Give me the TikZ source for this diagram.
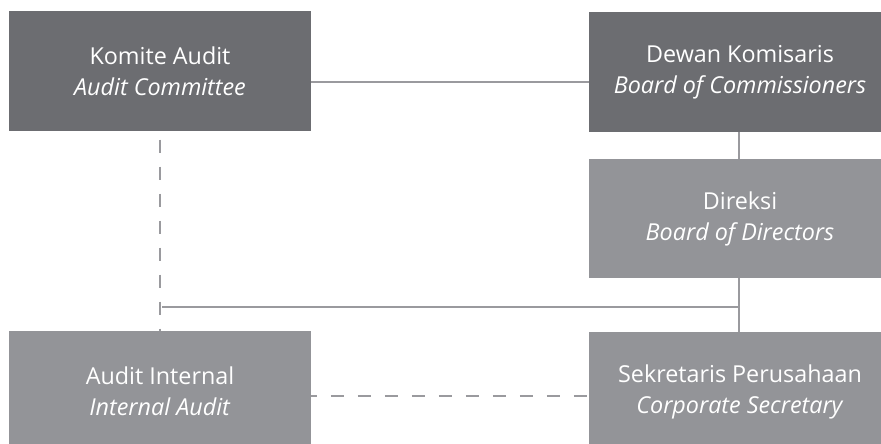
\documentclass[tikz,border=0pt]{standalone}
\usepackage{fontspec}
\setmainfont{Open Sans}
\definecolor{boxdark}{HTML}{6C6D71}
\definecolor{boxlight}{HTML}{939498}
\definecolor{linegray}{HTML}{9A9A9E}
\begin{document}
\begin{tikzpicture}[x=0.75pt, y=-0.75pt,
  darkbox/.style={rectangle, fill=boxdark, text=white, minimum width=226.5pt, minimum height=90pt, align=center, font=\fontsize{17.5}{23.25}\selectfont, inner sep=0pt},
  lightbox/.style={darkbox, fill=boxlight},
  conn/.style={draw=linegray, line width=1.5pt},
  dashconn/.style={conn, dash pattern=on 10pt off 10.25pt}]
\useasboundingbox (0,0) rectangle (881,443);
\node[darkbox] (komite) at (160,71){Komite Audit\\\textit{Audit Committee}};
\node[darkbox] (dewan) at (740,72){Dewan Komisaris\\\textit{Board of Commissioners}};
\node[lightbox, minimum height=89.25pt] (direksi) at (740,218.5){Direksi\\\textit{Board of Directors}};
\node[lightbox] (internal) at (160,391){Audit Internal\\\textit{Internal Audit}};
\node[lightbox] (sekretaris) at (740,392){Sekretaris Perusahaan\\\textit{Corporate Secretary}};
\coordinate (tap) at (162,307);
\draw[conn] ([yshift=-8.25pt]komite.east) -- ([yshift=-8.25pt]komite.east -| dewan.west);
\draw[conn] ([xshift=-0.75pt]dewan.south) -- ([xshift=-0.75pt]direksi.north);
\draw[conn] ([xshift=-0.75pt]direksi.south) -- ([xshift=-0.75pt]sekretaris.north);
\draw[conn] (tap) -- (tap -| sekretaris.north);
\draw[dashconn, dash phase=14pt] (komite.south) -- (internal.north);
\draw[dashconn, dash phase=5.5pt] ([yshift=-3.75pt]internal.east) -- ([yshift=-3.75pt]internal.east -| sekretaris.west);
\end{tikzpicture}
\end{document}
